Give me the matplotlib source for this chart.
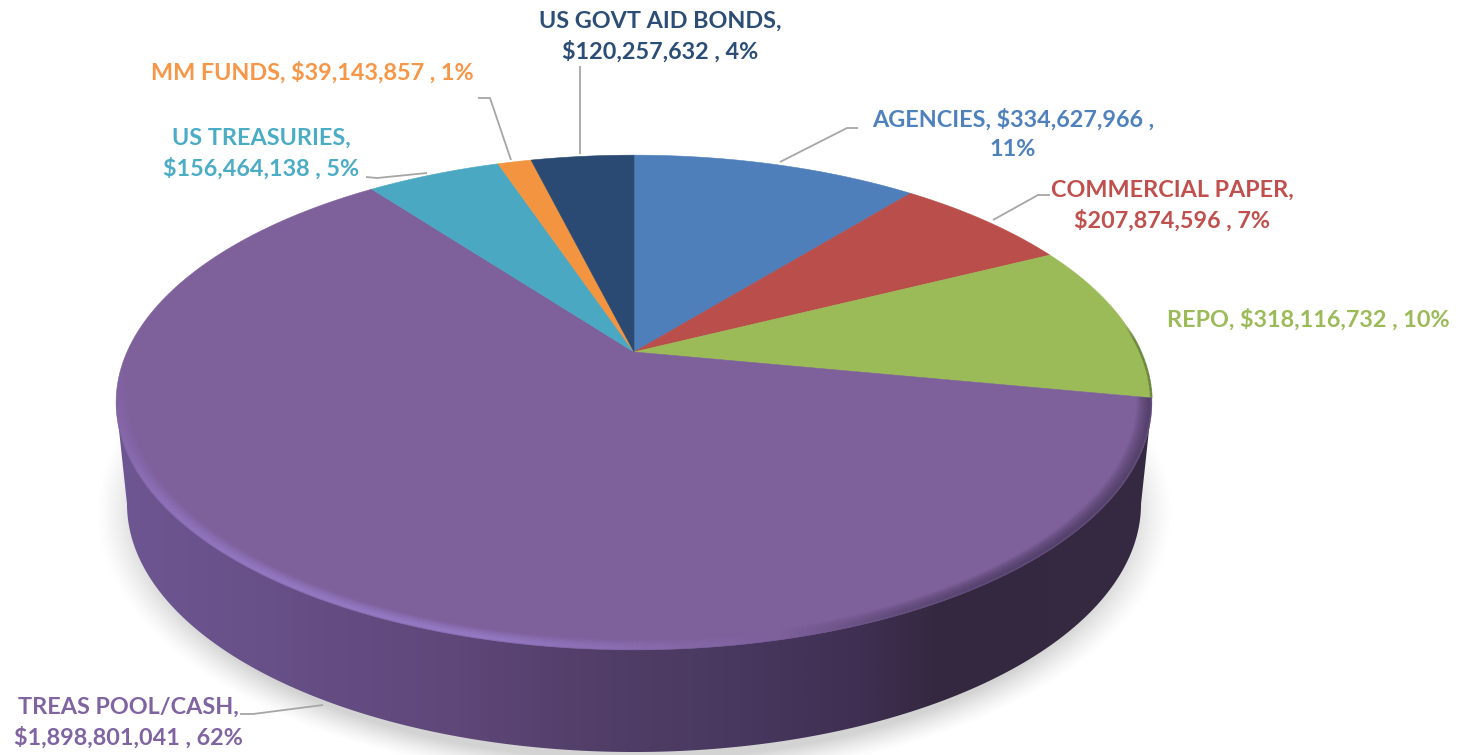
import numpy as np
import matplotlib
matplotlib.use('Agg')
import matplotlib.pyplot as plt
from matplotlib.collections import LineCollection
from matplotlib.colors import LinearSegmentedColormap, to_rgb
from matplotlib.patches import Polygon

categories = ['AGENCIES', 'COMMERCIAL PAPER', 'REPO', 'TREAS POOL/CASH',
              'US TREASURIES', 'MM FUNDS', 'US GOVT AID BONDS']
amounts = [334627966, 207874596, 318116732, 1898801041,
           156464138, 39143857, 120257632]
percents = [11, 7, 10, 62, 5, 1, 4]
slice_colors = ['#4f7fba', '#b94e4b', '#9bbb59', '#7e609b',
                '#4aa8c3', '#f39440', '#2a4a73']
text_colors = ['#4f81bd', '#c0504d', '#9bbb59', '#8064a2',
               '#4bacc6', '#f79646', '#2c4d75']

# pie apex and the perspective of the tilted disc, in pixels
cx, cy = 634, 352
r_x, r_y, tilt = 507, 237, 0.204

W, H = 1469, 755


def project(theta, scale=1.0):
    # theta runs clockwise from 12 o'clock, in radians
    u = scale * np.sin(theta)
    v = scale * np.cos(theta)
    w = 1 + tilt * v
    return cx + r_x * u / w, cy - r_y * v / w


def blend(x, stops, colors):
    rgb = np.array([to_rgb(c) for c in colors])
    return np.column_stack([np.interp(x, stops, rgb[:, i]) for i in range(3)])


def rim_line(ax, theta, scale, width, stops, colors, alpha=1.0):
    x, y = project(theta, scale)
    pts = np.column_stack([x, y])
    segs = np.stack([pts[:-1], pts[1:]], axis=1)
    c = blend((x[:-1] + x[1:]) / 2, stops, colors)
    # fade the far end of the bevel out into the top face
    fade = np.clip((len(segs) - np.arange(len(segs))) / (0.2 * len(segs)), 0, 1)
    rgba = np.column_stack([c, fade * alpha])
    ax.add_collection(LineCollection(segs, colors=rgba, linewidths=width,
                                     capstyle='butt', zorder=3.5))


fig = plt.figure(figsize=(W / 100, H / 100), dpi=100)
ax = fig.add_axes([0, 0, 1, 1])
ax.set_xlim(0, W)
ax.set_ylim(H, 0)
ax.axis('off')

# soft shadow under the disc
xx, yy = np.meshgrid(np.arange(W), np.arange(H))
d = np.sqrt(((xx - 634) / 538) ** 2 + ((yy - 512) / 270) ** 2)
shade = np.clip((1.0 - d) / 0.085, 0, 1) ** 1.3
shadow = np.zeros((H, W, 4))
shadow[..., :3] = 0.80
shadow[..., 3] = shade * 0.85
ax.imshow(shadow, extent=(0, W, H, 0), aspect='auto', zorder=1,
          interpolation='bilinear')

# side wall, shaded left to right
t = np.linspace(0, np.pi, 300)
wall_x = 634 + 507 * np.cos(t)
wall_y = 504 + 248 * np.sin(t)
wall_pts = np.column_stack([wall_x, wall_y])
wall_pts = np.vstack([[1152, 402], wall_pts, [116, 402]])
clip = Polygon(wall_pts, closed=True, transform=ax.transData, fc='none', ec='none')
ax.add_patch(clip)
wall_cmap = LinearSegmentedColormap.from_list('wall', [
    (0.00, '#6e5692'), (0.20, '#654d84'), (0.33, '#5f4779'), (0.45, '#533f6a'),
    (0.60, '#48385f'), (0.72, '#3f2f52'), (0.80, '#33283f'), (1.00, '#352a42')])
grad = np.linspace(0, 1, 512).reshape(1, -1)
im = ax.imshow(grad, cmap=wall_cmap, extent=(116, 1152, 760, 380), aspect='auto', zorder=2)
im.set_clip_path(clip)
ax.set_xlim(0, W)
ax.set_ylim(H, 0)

# top face
edges = np.cumsum([0] + amounts) / sum(amounts) * 2 * np.pi
for i in range(len(amounts)):
    th = np.linspace(edges[i], edges[i + 1], 200)
    x, y = project(th)
    ax.fill(np.r_[cx, x], np.r_[cy, y], color=slice_colors[i], lw=0.4, zorder=3)

# bevel along the front edge of the disc, soft from the wall into the face
stops = [116, 260, 480, 640, 780, 900, 1000, 1152]
inner = ['#9276c4', '#9b80cf', '#9b80cf', '#8c6fb4', '#7e609b', '#5a4672', '#4a3a60', '#453658']
th = np.linspace(edges[3], edges[4] - 0.95, 500)
for k in range(10):
    rim_line(ax, th, 0.974 + 0.0026 * k, 2.0, stops, inner, 0.06 + 0.05 * k)

# dark edge on the green slice
th = np.linspace(edges[3] - 0.30, edges[3], 60)
rim_line(ax, th[::-1], 0.999, 1.8, [0, 2000], ['#5f7a35', '#5f7a35'], 0.85)

# leader lines
leaders = [
    ([780, 847, 858], [162, 128, 128]),
    ([993, 1038, 1050], [220, 195, 195]),
    ([323, 253, 240], [705, 714, 714]),
    ([427, 377, 366], [173, 178, 177]),
    ([511, 490, 478], [160, 98, 98]),
    ([580, 580], [154, 66]),
]
for lx, ly in leaders:
    ax.plot(lx, ly, color='#a6a6a6', lw=1.3, zorder=4, solid_capstyle='butt')

# data labels
label_pos = [(1013, 134), (1172, 206), (1308, 320), (128, 723),
             (261, 154), (312, 73), (660, 37)]
label_lines = [
    '{}, ${:,} ,\n{}%',
    '{},\n${:,} , {}%',
    '{}, ${:,} , {}%',
    '{},\n${:,} , {}%',
    '{},\n${:,} , {}%',
    '{}, ${:,} , {}%',
    '{},\n${:,} , {}%',
]
for i in range(len(categories)):
    s = label_lines[i].format(categories[i], amounts[i], percents[i])
    ax.text(label_pos[i][0], label_pos[i][1], s, color=text_colors[i], ha='center',
            va='center', family='Lato', weight='bold', fontsize=16.8,
            linespacing=1.46, zorder=5)

fig.savefig('out.png', dpi=100)
